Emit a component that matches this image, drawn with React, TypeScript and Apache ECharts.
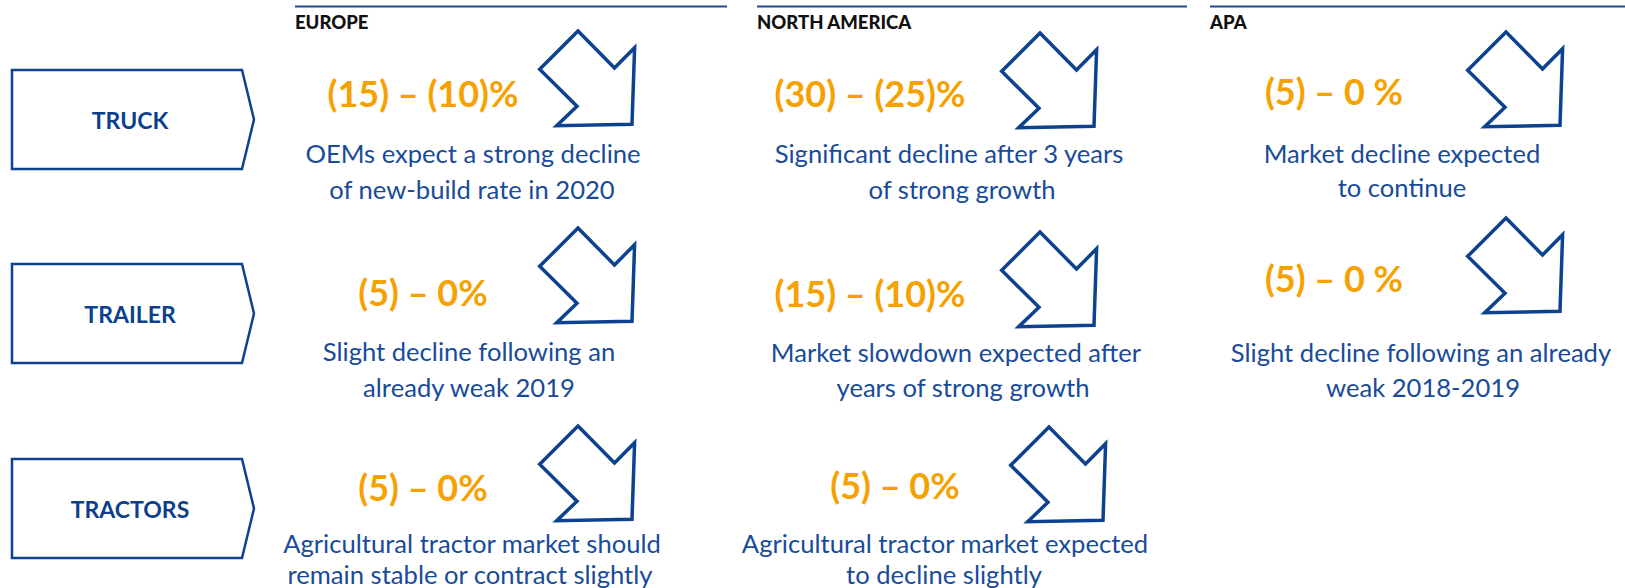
import React, { useEffect, useRef } from "react";
import * as echarts from "echarts";

// ---- data ----
const regions = ["EUROPE", "NORTH AMERICA", "APA"];
const segments = ["TRUCK", "TRAILER", "TRACTORS"];
const europeRanges = ["(15) – (10)%", "(5) – 0%", "(5) – 0%"];
const northAmericaRanges = ["(30) – (25)%", "(15) – (10)%", "(5) – 0%"];
const apaRanges = ["(5) – 0 %", "(5) – 0 %", ""];
const europeNotes = [
  ["OEMs expect a strong decline", "of new-build rate in 2020"],
  ["Slight decline following an", "already weak 2019"],
  ["Agricultural tractor market should", "remain stable or contract slightly"],
];
const northAmericaNotes = [
  ["Significant decline after 3 years", "of strong growth"],
  ["Market slowdown expected after", "years of strong growth"],
  ["Agricultural tractor market expected", "to decline slightly"],
];
const apaNotes = [
  ["Market decline expected", "to continue"],
  ["Slight decline following an already", "weak 2018-2019"],
  [],
];

// ---- layout ----
const BLUE = "#0c4290";
const TEXT_BLUE = "#184b99";
const ORANGE = "#f5a100";
const FONT = "Lato, 'Open Sans', sans-serif";

const headerX = [295, 757, 1210];
const headerLine = [
  [295, 727],
  [757, 1187],
  [1210, 1625],
];
const boxTop = [70, 264, 459];
const boxH = 99;

const rangePos = [
  [[423, 93], [423, 292], [423, 487]],
  [[870, 93], [870, 293], [895, 485]],
  [[1334, 91], [1334, 278], [0, 0]],
];
const notePos = [
  [[[473, 153], [472, 189]], [[469, 351], [469, 387]], [[472, 543], [470, 574]]],
  [[[949, 153], [962, 189]], [[956, 352], [963, 387]], [[945, 543], [944, 574]]],
  [[[1402, 153], [1402, 187]], [[1421, 352], [1423, 387]], []],
];
const arrowPos = [
  [[578, 31], [578, 228], [578, 426]],
  [[1040, 33], [1040, 232], [1049, 427]],
  [[1506, 32], [1506, 218], null],
];
const arrowShape = [
  [0, 0],
  [36.5, 37],
  [56.6, 16.7],
  [54, 93.3],
  [-21.3, 94.7],
  [-1, 75.2],
  [-38.3, 38.3],
];

export default function App() {
  const ref = useRef<HTMLDivElement>(null);
  useEffect(() => {
    document.body.style.margin = "0";
    const chart = echarts.init(ref.current!, null, { renderer: "svg" });
    const els: any[] = [];
    const rangeSets = [europeRanges, northAmericaRanges, apaRanges];
    const noteSets = [europeNotes, northAmericaNotes, apaNotes];

    regions.forEach((r, i) => {
      els.push({
        type: "line",
        shape: { x1: headerLine[i][0], y1: 6.5, x2: headerLine[i][1], y2: 6.5 },
        style: { stroke: "#1c4a94", lineWidth: 2.2 },
      });
      els.push({
        type: "text",
        style: {
          text: r,
          x: headerX[i],
          y: 22,
          align: "left",
          verticalAlign: "middle",
          font: `900 18.5px ${FONT}`,
          fill: "#111111",
        },
      });
    });

    segments.forEach((s, j) => {
      const t = boxTop[j];
      els.push({
        type: "polygon",
        shape: {
          points: [
            [12, t],
            [242, t],
            [254, t + boxH / 2],
            [242, t + boxH],
            [12, t + boxH],
          ],
        },
        style: { fill: "#ffffff", stroke: BLUE, lineWidth: 2.5 },
      });
      els.push({
        type: "text",
        style: {
          text: s,
          x: 130,
          y: t + boxH / 2,
          align: "center",
          verticalAlign: "middle",
          font: `bold 23px ${FONT}`,
          fill: "#0d3f8c",
        },
      });
    });

    regions.forEach((_, i) => {
      segments.forEach((_s, j) => {
        const txt = rangeSets[i][j];
        if (!txt) return;
        els.push({
          type: "text",
          style: {
            text: txt,
            x: rangePos[i][j][0],
            y: rangePos[i][j][1],
            align: "center",
            verticalAlign: "middle",
            font: `bold 36px ${FONT}`,
            fill: ORANGE,
          },
        });
        noteSets[i][j].forEach((line: string, k: number) => {
          els.push({
            type: "text",
            style: {
              text: line,
              x: notePos[i][j][k][0],
              y: notePos[i][j][k][1],
              align: "center",
              verticalAlign: "middle",
              font: `25.6px ${FONT}`,
              fill: TEXT_BLUE,
            },
          });
        });
        const a = arrowPos[i][j];
        if (a) {
          els.push({
            type: "polygon",
            shape: { points: arrowShape.map((p) => [a[0] + p[0], a[1] + p[1]]) },
            style: { fill: "#ffffff", stroke: BLUE, lineWidth: 3.5, lineJoin: "miter" },
          });
        }
      });
    });

    chart.setOption({ animation: false, graphic: { elements: els } });
    return () => chart.dispose();
  }, []);
  return <div ref={ref} style={{ width: 1625, height: 588 }} />;
}
